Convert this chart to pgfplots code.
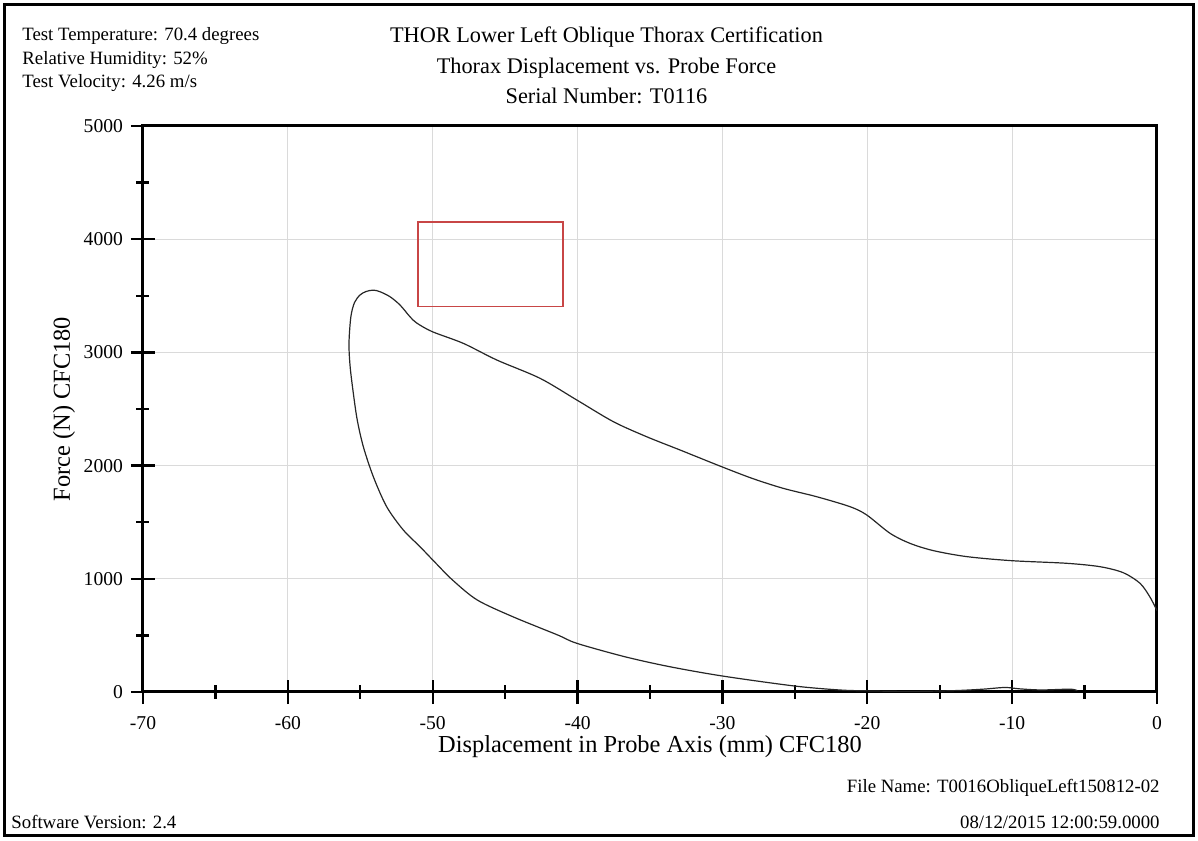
\documentclass[border=0pt]{standalone}
\usepackage{pgfplots}
\pgfplotsset{compat=1.18}
\usepackage{fontspec}
\setmainfont{Liberation Serif}
\definecolor{boxred}{RGB}{200,70,70}
\definecolor{gridgray}{RGB}{218,218,218}

\begin{document}
\begin{tikzpicture}
\begin{axis}[
  scale only axis,
  width=507pt, height=283pt,
  xmin=-70, xmax=0, ymin=0, ymax=5000,
  xtick={-70,-60,...,0},
  xticklabels={-70,-60,-50,-40,-30,-20,-10,0},
  ytick={0,1000,...,5000},
  yticklabels={0,1000,2000,3000,4000,5000},
  minor x tick num=1, minor y tick num=1,
  tick pos=left,
  tick align=center,
  major tick length=12pt, minor tick length=6.5pt,
  every tick/.style={black, line width=1.2pt},
  axis line style={line width=1.5pt},
  grid=major,
  major grid style={gridgray, line width=0.5pt},
  ticklabel style={font=\fontsize{9.8}{11}\selectfont},
  xticklabel style={anchor=base, yshift=-12.5pt},
  yticklabel style={anchor=east, xshift=-0.5pt},
  xlabel={Displacement in Probe Axis (mm) CFC180},
  ylabel={Force (N) CFC180},
  every axis x label/.style={at={(axis description cs:0.5,0)}, anchor=base, yshift=-30pt,
    font=\fontsize{12.2}{14}\selectfont},
  every axis y label/.style={at={(axis description cs:0,0.5)}, xshift=-36.5pt, rotate=90, anchor=base,
    font=\fontsize{12.2}{14}\selectfont},
]
% probe box
\addplot[boxred, line width=0.8pt] coordinates {
  (-51,3404) (-41,3404) (-41,4150) (-51,4150) (-51,3404)
};
% force-deflection loop
\addplot[black!85, line width=0.6pt, smooth] coordinates {
  (0,720) (-0.5,842) (-1.17,960) (-2.33,1054) (-3.94,1107) (-6.24,1137)
  (-10.03,1160) (-13.14,1196) (-15.44,1249) (-17.05,1313) (-18.43,1402)
  (-20.04,1564) (-21.19,1637) (-23.49,1725) (-25.8,1799) (-27.9,1885)
  (-30.05,1990) (-32.93,2138) (-35.23,2255) (-37.53,2388) (-40.06,2580)
  (-42.59,2771) (-45.58,2933) (-47.89,3080) (-50.03,3183) (-51.11,3260)
  (-51.57,3315) (-52.26,3419) (-52.95,3492) (-53.64,3536) (-54.1,3550)
  (-54.6,3538) (-55.02,3507) (-55.4,3440) (-55.65,3315) (-55.78,3080)
  (-55.7,2874) (-55.48,2639) (-55.21,2403) (-54.79,2167) (-54.10,1902)
  (-53.18,1637) (-52.03,1431) (-50.88,1284) (-49.8,1140) (-48.63,989)
  (-46.93,813) (-44.47,665) (-41.38,504) (-40.05,430) (-36.75,312)
  (-33.66,224) (-29.99,141) (-25.03,53) (-21.93,18) (-20,10) (-17,5)
  (-14,12) (-12,25) (-10.5,40) (-9.5,28) (-8,18) (-6,25) (-5.5,12)
};
\end{axis}

% page furniture, in pixel units of the 1198x840 sheet
\begin{scope}[x=0.5pt, y=-0.5pt, shift={(-71.5pt,346pt)}]
  \draw[line width=1.5pt] (5,5) rectangle (1193,835);
  \begin{scope}[font=\fontsize{9.4}{11}\selectfont]
    \node[anchor=base west, inner sep=0pt] at (22,40.7) {Test Temperature: 70.4 degrees};
    \node[anchor=base west, inner sep=0pt] at (22,65) {Relative Humidity: 52\%};
    \node[anchor=base west, inner sep=0pt] at (22,87.3) {Test Velocity: 4.26 m/s};
    \node[anchor=base west, inner sep=0pt] at (11,828) {Software Version: 2.4};
    \node[anchor=base east, inner sep=0pt] at (1160,792) {File Name: T0016ObliqueLeft150812-02};
    \node[anchor=base east, inner sep=0pt] at (1160,828) {08/12/2015 12:00:59.0000};
  \end{scope}
  \begin{scope}[font=\fontsize{11.15}{13}\selectfont]
    \node[anchor=base, inner sep=0pt] at (606.5,42.7) {THOR Lower Left Oblique Thorax Certification};
    \node[anchor=base, inner sep=0pt] at (606.5,74) {Thorax Displacement vs. Probe Force};
    \node[anchor=base, inner sep=0pt] at (606.5,103.3) {Serial Number: T0116};
  \end{scope}
  \pgfresetboundingbox
  \path[use as bounding box] (0,0) rectangle (1198,840);
\end{scope}
\end{tikzpicture}
\end{document}
